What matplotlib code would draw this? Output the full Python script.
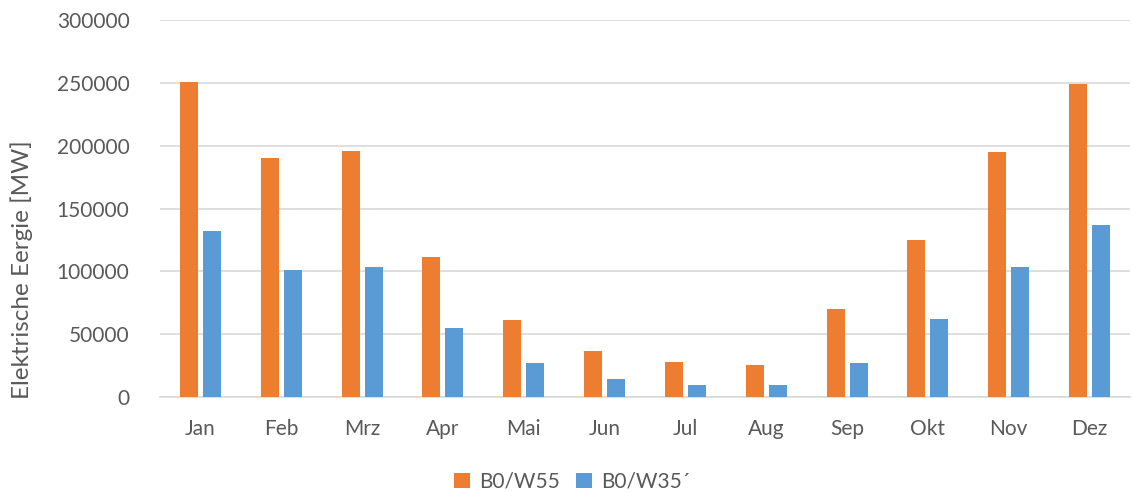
import numpy as np
import matplotlib
matplotlib.use('Agg')
import matplotlib.pyplot as plt

months = ['Jan', 'Feb', 'Mrz', 'Apr', 'Mai', 'Jun', 'Jul', 'Aug', 'Sep', 'Okt', 'Nov', 'Dez']
b0_w55 = [250700, 190000, 195500, 111100, 61000, 36300, 27900, 25500, 69800, 124900, 195200, 249100]
b0_w35 = [132100, 101300, 103200, 54600, 27000, 14300, 9800, 9500, 27000, 61800, 103400, 136600]
yticks = [0, 50000, 100000, 150000, 200000, 250000, 300000]

plt.rcParams['font.family'] = ['Lato', 'DejaVu Sans']
txt = '#595959'

fig = plt.figure(figsize=(11.33, 4.92), dpi=100)
ax = fig.add_axes([0.1412, 0.1931, 0.8562, 0.7662])

x = np.arange(len(months))
w = 0.223
off = 0.142
ax.bar(x - off, b0_w55, w, color='#ED7D31', label='B0/W55', zorder=3)
ax.bar(x + off, b0_w35, w, color='#5B9BD5', label='B0/W35´', zorder=3)

ax.set_xlim(-0.5, len(months) - 0.5)
ax.set_ylim(0, 300000)
ax.set_yticks(yticks)
ax.set_yticklabels([str(v) for v in yticks])
ax.set_xticks(x)
ax.set_xticklabels(months)
ax.tick_params(axis='both', length=0, labelsize=15, colors=txt)
ax.tick_params(axis='y', pad=22)
ax.tick_params(axis='x', pad=16)
ax.yaxis.grid(True, color='#d9d9d9', linewidth=1.2, zorder=0)
for s in ['top', 'right', 'left']:
    ax.spines[s].set_visible(False)
ax.spines['bottom'].set_color('#d9d9d9')
ax.spines['bottom'].set_linewidth(1.2)

fig.text(0.0194, 0.451, 'Elektrische Eergie [MW]', rotation=90, va='center', ha='center',
         fontsize=17.5, color=txt)

fig.legend(loc='lower center', bbox_to_anchor=(0.505, -0.038), ncol=2, frameon=False,
           fontsize=15, labelcolor=txt, handlelength=0.75, handleheight=0.75,
           handletextpad=0.45, columnspacing=0.8)

fig.savefig('out.png', dpi=100)
